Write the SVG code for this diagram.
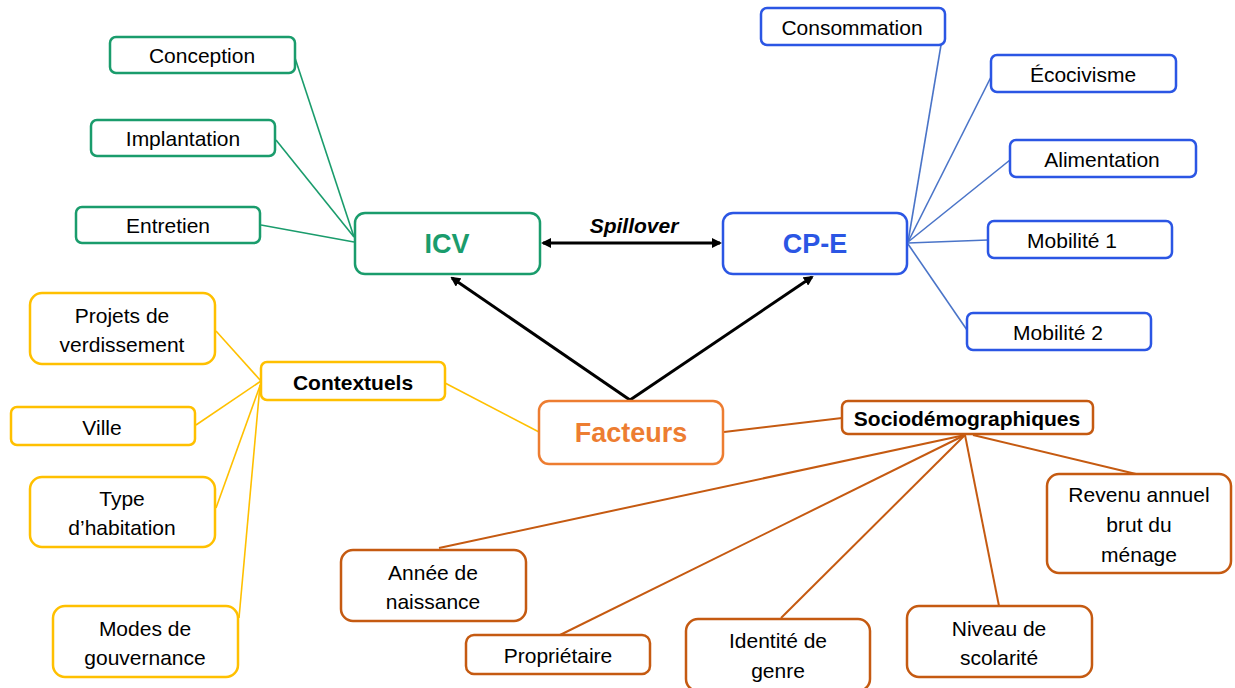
<svg xmlns="http://www.w3.org/2000/svg" width="1235" height="688" viewBox="0 0 1235 688">
<style>
text{font-family:"Liberation Sans",Arial,sans-serif;font-size:21px;fill:#000;text-anchor:middle;dominant-baseline:central}
.b{fill:#fff;stroke-width:2.5}
.g{stroke:#1a9c6c}.bl{stroke:#2b56e4}.y{stroke:#ffc000}.o{stroke:#ed7d31}.r{stroke:#c55a11}
.lg{stroke:#1a9c6c;stroke-width:1.6;fill:none}
.lb{stroke:#4a74c8;stroke-width:1.6;fill:none}
.ly{stroke:#ffc000;stroke-width:1.6;fill:none}
.lr{stroke:#c55a11;stroke-width:2;fill:none}
.big{font-size:27px;font-weight:bold}
.bold{font-weight:bold}
</style>
<defs>
<marker id="ah" markerWidth="10" markerHeight="10" refX="8" refY="5" orient="auto-start-reverse" markerUnits="userSpaceOnUse">
<path d="M0,0 L10,5 L0,10 z" fill="#000"/>
</marker>
</defs>
<g id="connectors">
<line class="lg" x1="295" y1="58" x2="354" y2="237"/>
<line class="lg" x1="276" y1="140" x2="354" y2="237"/>
<line class="lg" x1="261" y1="225" x2="354" y2="242"/>
<line class="lb" x1="941" y1="45" x2="908" y2="242"/>
<line class="lb" x1="991" y1="77" x2="908" y2="242"/>
<line class="lb" x1="1010" y1="160" x2="908" y2="242"/>
<line class="lb" x1="988" y1="240" x2="908" y2="243"/>
<line class="lb" x1="967" y1="330" x2="908" y2="244"/>
<line class="ly" x1="216" y1="331" x2="261" y2="381"/>
<line class="ly" x1="196" y1="425" x2="261" y2="381"/>
<line class="ly" x1="216" y1="508" x2="261" y2="383"/>
<line class="ly" x1="239" y1="618" x2="260" y2="385"/>
<line class="ly" x1="445" y1="383" x2="539" y2="432"/>
<line class="lr" x1="724" y1="432" x2="842" y2="418"/>
<line class="lr" x1="965" y1="435" x2="439" y2="548"/>
<line class="lr" x1="965" y1="435" x2="560" y2="635"/>
<line class="lr" x1="965" y1="435" x2="781" y2="618"/>
<line class="lr" x1="965" y1="435" x2="999" y2="606"/>
<line class="lr" x1="973" y1="435" x2="1136" y2="474"/>
<line x1="543" y1="243" x2="720" y2="243" stroke="#000" stroke-width="3" marker-start="url(#ah)" marker-end="url(#ah)"/>
<line x1="630" y1="400" x2="452" y2="278" stroke="#000" stroke-width="3" marker-end="url(#ah)"/>
<line x1="630" y1="400" x2="812" y2="277" stroke="#000" stroke-width="3" marker-end="url(#ah)"/>
<text x="634" y="225" class="bold" font-style="italic" font-size="20">Spillover</text>
</g>
<g id="conception"><rect class="b g" x="110" y="37" width="185" height="36" rx="6"/><text x="202" y="55">Conception</text></g>
<g id="implantation"><rect class="b g" x="91" y="120" width="184" height="36" rx="6"/><text x="183" y="138">Implantation</text></g>
<g id="entretien"><rect class="b g" x="76" y="207" width="184" height="36" rx="6"/><text x="168" y="225">Entretien</text></g>
<g id="icv"><rect class="b g" x="355" y="213" width="185" height="61" rx="10"/><text x="447" y="244" class="big" style="fill:#1a9c6c">ICV</text></g>
<g id="cpe"><rect class="b bl" x="723" y="213" width="184" height="61" rx="10"/><text x="815" y="244" class="big" style="fill:#2b56e4">CP-E</text></g>
<g id="consommation"><rect class="b bl" x="761" y="8" width="184" height="37" rx="6"/><text x="852" y="27">Consommation</text></g>
<g id="ecocivisme"><rect class="b bl" x="991" y="55" width="185" height="37" rx="6"/><text x="1083" y="74">Écocivisme</text></g>
<g id="alimentation"><rect class="b bl" x="1010" y="140" width="186" height="37" rx="6"/><text x="1102" y="159">Alimentation</text></g>
<g id="mobilite1"><rect class="b bl" x="988" y="221" width="184" height="37" rx="6"/><text x="1072" y="240">Mobilité 1</text></g>
<g id="mobilite2"><rect class="b bl" x="967" y="313" width="184" height="37" rx="6"/><text x="1058" y="332">Mobilité 2</text></g>
<g id="facteurs"><rect class="b o" x="539" y="401" width="184" height="63" rx="10"/><text x="631" y="433" class="big" style="fill:#ed7d31">Facteurs</text></g>
<g id="contextuels"><rect class="b y" x="261" y="362" width="184" height="38" rx="6"/><text x="353" y="382" class="bold" font-size="20">Contextuels</text></g>
<g id="projets"><rect class="b y" x="30" y="293" width="185" height="71" rx="12"/><text x="122" y="315">Projets de</text><text x="122" y="344">verdissement</text></g>
<g id="ville"><rect class="b y" x="11" y="407" width="184" height="38" rx="6"/><text x="102" y="427">Ville</text></g>
<g id="type"><rect class="b y" x="30" y="477" width="185" height="70" rx="12"/><text x="122" y="498">Type</text><text x="122" y="527">d’habitation</text></g>
<g id="modes"><rect class="b y" x="53" y="606" width="185" height="71" rx="12"/><text x="145" y="628">Modes de</text><text x="145" y="657">gouvernance</text></g>
<g id="socio"><rect class="b r" x="842" y="401" width="251" height="33" rx="6"/><text x="967" y="418" class="bold" font-size="20">Sociodémographiques</text></g>
<g id="revenu"><rect class="b r" x="1047" y="474" width="184" height="99" rx="12"/><text x="1139" y="494">Revenu annuel</text><text x="1139" y="524">brut du</text><text x="1139" y="554">ménage</text></g>
<g id="annee"><rect class="b r" x="341" y="550" width="185" height="71" rx="12"/><text x="433" y="572">Année de</text><text x="433" y="601">naissance</text></g>
<g id="proprietaire"><rect class="b r" x="466" y="635" width="184" height="39" rx="8"/><text x="558" y="655">Propriétaire</text></g>
<g id="identite"><rect class="b r" x="686" y="619" width="184" height="72" rx="12"/><text x="778" y="640">Identité de</text><text x="778" y="670">genre</text></g>
<g id="niveau"><rect class="b r" x="907" y="606" width="185" height="71" rx="12"/><text x="999" y="628">Niveau de</text><text x="999" y="657">scolarité</text></g>
</svg>
